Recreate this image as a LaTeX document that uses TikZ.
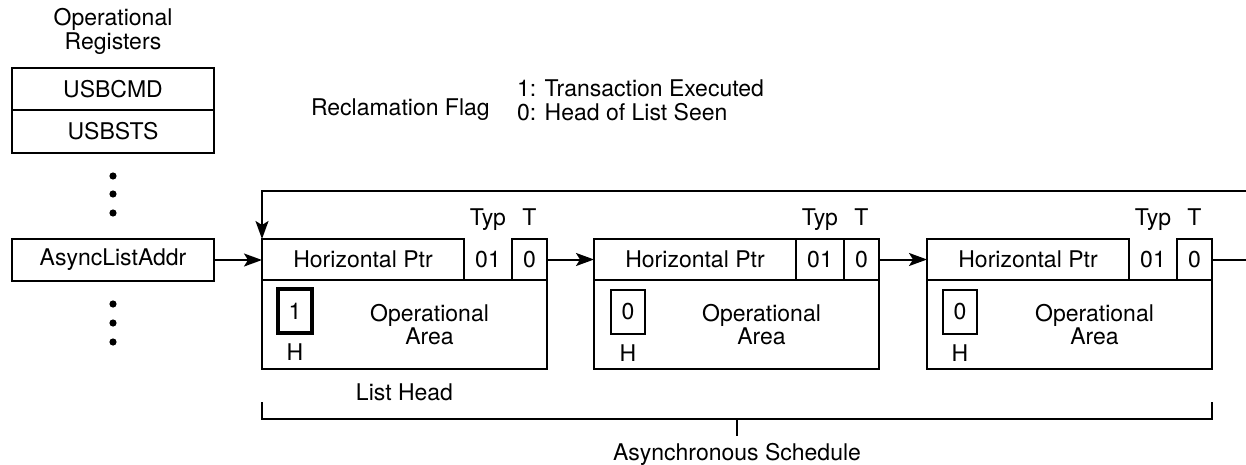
\documentclass[tikz,border=0pt]{standalone}
\usepackage{fontspec}
\setmainfont{TeX Gyre Heros}
\usetikzlibrary{arrows.meta, positioning}

\begin{document}
\begin{tikzpicture}[
    x=0.5pt, y=-0.5pt,
    >={Stealth[length=9pt, width=6.5pt, inset=2pt]},
    font=\fontsize{11.5}{11.75}\selectfont,
    line width=1pt,
    % box styles
    regbox/.style={rectangle, draw, outer sep=0pt, inner sep=0pt, minimum width=101pt, minimum height=21pt},
    ptrbox/.style={rectangle, draw, outer sep=0pt, inner sep=0pt, minimum width=101pt, minimum height=20.5pt},
    typcell/.style={rectangle, outer sep=0pt, inner sep=0pt, minimum width=24pt, minimum height=20.5pt},
    tcell/.style={rectangle, draw, outer sep=0pt, inner sep=0pt, minimum width=17.5pt, minimum height=20.5pt},
    areabox/.style={rectangle, draw, outer sep=0pt, inner sep=0pt, minimum width=142.5pt, minimum height=44.5pt},
    hbit/.style={rectangle, draw, outer sep=0pt, inner sep=0pt, minimum width=17pt, minimum height=22pt},
    plain/.style={inner sep=0pt, align=center},
    regdot/.style={circle, fill, inner sep=0pt, minimum size=3.6pt}
]
\useasboundingbox (0,0) rectangle (1246,465);

% -------------------------
% Operational registers
% -------------------------
\node[regbox] (usbcmd) at (113,89.5) {USBCMD};
\node[regbox, below=0pt of usbcmd] (usbsts) {USBSTS};
\node[plain, above=6.5pt of usbcmd] (regtitle) {Operational\\Registers};

\node[regdot] (dot1) at (113,176) {};
\node[regdot] (dot2) at (113,194) {};
\node[regdot] (dot3) at (113,213) {};

\node[regbox] (async) at (113,260) {AsyncListAddr};

\node[regdot] (dot4) at (113,304) {};
\node[regdot] (dot5) at (113,323) {};
\node[regdot] (dot6) at (113,342) {};

% Reclamation flag legend
\node[plain, anchor=base west] (flag) at (310,115) {Reclamation Flag};
\node[plain, anchor=west, align=left] (flagval) at (516,100.5) {1: Transaction Executed\\0: Head of List Seen};

% -------------------------
% Queue head 1 (list head)
% -------------------------
\node[ptrbox, anchor=west] (ptr1) at (262,259.5) {Horizontal Ptr};
\node[typcell, right=0pt of ptr1] (typ1) {01};
\node[tcell, right=0pt of typ1] (t1) {0};
\node[areabox, anchor=north west] (area1) at (ptr1.south west) {};
\node[hbit, line width=2pt, anchor=north west] (hbit1) at ([xshift=8pt, yshift=-4.5pt]area1.north west) {1};
\node[plain, below=5pt of hbit1] (hlbl1) {H};
\node[plain] (op1) at ([xshift=12.5pt]area1.center) {Operational\\Area};
\node[plain, anchor=base] (typlbl1) at ([yshift=7pt]typ1.north) {Typ};
\node[plain, anchor=base] (tlbl1) at ([yshift=7pt]t1.north) {T};
\node[plain, anchor=base] (listhead) at ([yshift=-15.5pt]area1.south) {List Head};

% -------------------------
% Queue head 2
% -------------------------
\node[ptrbox, anchor=west] (ptr2) at (594,259.5) {Horizontal Ptr};
\node[typcell, draw, right=0pt of ptr2] (typ2) {01};
\node[tcell, right=0pt of typ2] (t2) {0};
\node[areabox, anchor=north west] (area2) at (ptr2.south west) {};
\node[hbit, anchor=north west] (hbit2) at ([xshift=8.5pt, yshift=-5pt]area2.north west) {0};
\node[plain, below=5pt of hbit2] (hlbl2) {H};
\node[plain] (op2) at ([xshift=12.5pt]area2.center) {Operational\\Area};
\node[plain, anchor=base] (typlbl2) at ([yshift=7pt]typ2.north) {Typ};
\node[plain, anchor=base] (tlbl2) at ([yshift=7pt]t2.north) {T};

% -------------------------
% Queue head 3
% -------------------------
\node[ptrbox, anchor=west] (ptr3) at (927,259.5) {Horizontal Ptr};
\node[typcell, right=0pt of ptr3] (typ3) {01};
\node[tcell, right=0pt of typ3] (t3) {0};
\node[areabox, anchor=north west] (area3) at (ptr3.south west) {};
\node[hbit, anchor=north west] (hbit3) at ([xshift=8pt, yshift=-5pt]area3.north west) {0};
\node[plain, below=5pt of hbit3] (hlbl3) {H};
\node[plain] (op3) at ([xshift=12.5pt]area3.center) {Operational\\Area};
\node[plain, anchor=base] (typlbl3) at ([yshift=7pt]typ3.north) {Typ};
\node[plain, anchor=base] (tlbl3) at ([yshift=7pt]t3.north) {T};

% -------------------------
% Links
% -------------------------
\coordinate (outR) at (1246,259.5);
\coordinate (loopR) at (1246,191);

\draw[->] (async.east) -- (async.east -| ptr1.west);
\draw[->] (t1.east) -- (ptr2.west);
\draw[->] (t2.east) -- (ptr3.west);
\draw (t3.east) -- (outR);
\draw[->] (loopR) -| (ptr1.north west);

% Schedule bracket
\draw (262,402) -- (262,419) -- (1212,419) -- (1212,402);
\draw (737,419) -- (737,436);
\node[plain, anchor=base] (sched) at (737,460) {Asynchronous Schedule};

\end{tikzpicture}
\end{document}
